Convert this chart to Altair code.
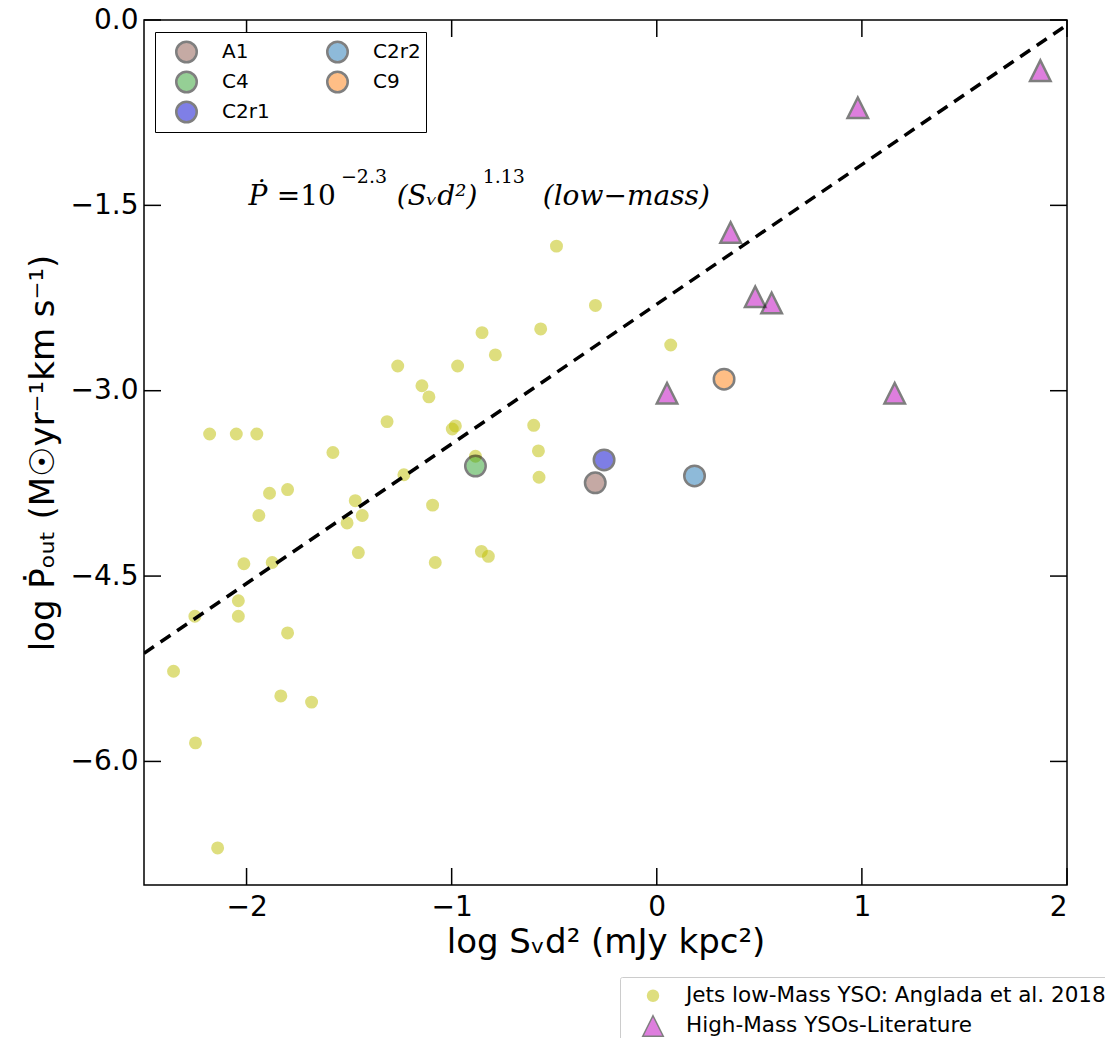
import altair as alt
import pandas as pd

# ---------------- data ----------------
low_x = [-2.18, -2.05, -1.95, -1.315, -0.489, -0.299, -0.566, -0.852, -0.787, 0.068,
         -1.263, -0.971, -1.145, -1.111, -0.982, -0.997, -0.600, -1.579, -1.888, -1.80,
         -1.94, -1.47, -1.436, -1.51, -1.455, -2.013, -1.875, -2.04, -2.04, -2.252,
         -1.80, -2.356, -0.577, -0.574, -0.884, -1.233, -1.093, -1.08, -0.855, -0.821,
         -1.833, -1.683, -2.249, -2.141]
low_y = [-3.35, -3.35, -3.35, -3.25, -1.83, -2.31, -2.50, -2.53, -2.71, -2.63,
         -2.80, -2.80, -2.96, -3.05, -3.285, -3.31, -3.28, -3.50, -3.83, -3.80,
         -4.01, -3.89, -4.01, -4.07, -4.31, -4.40, -4.39, -4.70, -4.825, -4.825,
         -4.96, -5.27, -3.487, -3.70, -3.53, -3.68, -3.926, -4.39, -4.30, -4.34,
         -5.47, -5.52, -5.85, -6.70]

high_x = [0.05, 0.36, 0.48, 0.56, 0.98, 1.16, 1.87]
high_y = [-3.02, -1.72, -2.24, -2.29, -0.71, -3.02, -0.41]

src_names = ["A1", "C4", "C2r1", "C2r2", "C9"]
src_x = [-0.30, -0.884, -0.257, 0.184, 0.328]
src_y = [-3.745, -3.61, -3.56, -3.69, -2.907]
src_colors = ["#8c564b", "#2ca02c", "#0000cd", "#1f77b4", "#ff7f0e"]

fit_intercept = -2.3
fit_slope = 1.13
fit_x = [-2.5, 2.0]
fit_y = [fit_intercept + fit_slope * v for v in fit_x]

x_ticks = [-2, -1, 0, 1, 2]
y_ticks = [0.0, -1.5, -3.0, -4.5, -6.0]

low_lab = "Jets low-Mass YSO: Anglada et al. 2018"
high_lab = "High-Mass YSOs-Literature"

# ---------------- layout ----------------
W, H = 923, 865
TICK = 17
FONT = "DejaVu Sans"

xs = alt.Scale(domain=[-2.5, 2.0], nice=False, zero=False)
ys = alt.Scale(domain=[-7.0, 0.0], nice=False, zero=False)

x_axis = alt.Axis(values=x_ticks, format="d", title="log Sᵥd²  (mJy kpc²)",
                  ticks=False, domain=False, grid=False,
                  labelFontSize=28, labelFont=FONT, labelColor="black", labelPadding=8,
                  titleFontSize=34, titleFont=FONT, titleFontWeight="normal",
                  titleColor="black", titlePadding=4)
y_axis = alt.Axis(values=y_ticks, format=".1f", title="log  Ṗₒᵤₜ  (M☉yr⁻¹km s⁻¹)",
                  ticks=False, domain=False, grid=False,
                  labelFontSize=28, labelFont=FONT, labelColor="black", labelPadding=6,
                  titleFontSize=34, titleFont=FONT, titleFontWeight="normal",
                  titleColor="black", titlePadding=10)

X = alt.X("x:Q", scale=xs, axis=x_axis)
Y = alt.Y("y:Q", scale=ys, axis=y_axis)

pts = pd.DataFrame({
    "x": low_x + high_x,
    "y": low_y + high_y,
    "group": [low_lab] * len(low_x) + [high_lab] * len(high_x),
})

tri_path = "M0,-1L1,1L-1,1Z"
gdom = [low_lab, high_lab]
grp_legend = alt.Legend(title=None, orient="none", legendX=476, legendY=957,
                        direction="vertical", labelFontSize=21.5, labelFont=FONT,
                        labelColor="black", labelLimit=700, strokeColor="#cccccc",
                        fillColor="white", padding=8, symbolOffset=14, labelOffset=22,
                        rowPadding=5, cornerRadius=2)

grp_enc = dict(
    x=X, y=Y,
    color=alt.Color("group:N", scale=alt.Scale(domain=gdom, range=["#bfbf00", "#bf00bf"]),
                    legend=grp_legend),
    shape=alt.Shape("group:N", scale=alt.Scale(domain=gdom, range=["circle", tri_path]),
                    legend=grp_legend),
    stroke=alt.Stroke("group:N", scale=alt.Scale(domain=gdom, range=["#bfbf00", "#000000"]),
                      legend=grp_legend),
    size=alt.Size("group:N", scale=alt.Scale(domain=gdom, range=[120, 420]),
                  legend=grp_legend),
)

base_pts = alt.Chart(pts)
yellow = base_pts.transform_filter(alt.datum.group == low_lab).mark_point(
    filled=True, opacity=0.5, strokeWidth=2).encode(**grp_enc)
tri = base_pts.transform_filter(alt.datum.group == high_lab).mark_point(
    filled=True, opacity=0.5, strokeWidth=2.5).encode(**grp_enc)

fit = alt.Chart(pd.DataFrame({"x": fit_x, "y": fit_y})).mark_line(
    color="black", strokeDash=[12, 8], strokeWidth=3.5, clip=True).encode(x=X, y=Y)

src = pd.DataFrame({"x": src_x, "y": src_y, "name": src_names})
named = alt.Chart(src).mark_point(
    filled=True, opacity=0.5, stroke="black", strokeWidth=2.5, size=420, shape="circle"
).encode(
    x=X, y=Y,
    fill=alt.Fill("name:N",
                  scale=alt.Scale(domain=src_names, range=src_colors),
                  legend=alt.Legend(title=None, orient="none", legendX=11, legendY=12,
                                    columns=2, symbolType="circle", symbolSize=420,
                                    symbolStrokeColor="black", symbolStrokeWidth=2.5,
                                    symbolOpacity=0.5, labelFontSize=20, labelFont=FONT,
                                    labelColor="black", labelOffset=24, rowPadding=0,
                                    clipHeight=30, columnPadding=41, padding=5,
                                    symbolOffset=15, strokeColor="black",
                                    fillColor="white", cornerRadius=0)),
)

# inward ticks on all four sides
xt = alt.Chart(pd.DataFrame({"v": x_ticks}))
yt = alt.Chart(pd.DataFrame({"v": y_ticks}))
XT = alt.X("v:Q", scale=xs, axis=x_axis)
YT = alt.Y("v:Q", scale=ys, axis=y_axis)
tick_bottom = xt.mark_rule(color="black", strokeWidth=1.5).encode(
    x=XT, y=alt.value(H), y2=alt.value(H - TICK))
tick_top = xt.mark_rule(color="black", strokeWidth=1.5).encode(
    x=XT, y=alt.value(0), y2=alt.value(TICK))
tick_left = yt.mark_rule(color="black", strokeWidth=1.5).encode(
    y=YT, x=alt.value(0), x2=alt.value(TICK))
tick_right = yt.mark_rule(color="black", strokeWidth=1.5).encode(
    y=YT, x=alt.value(W), x2=alt.value(W - TICK))

# equation annotation (pieces)
def txt(s, xv, yv, size, style):
    return alt.Chart(pd.DataFrame({"t": [s]})).mark_text(
        align="left", baseline="alphabetic", font="DejaVu Serif", fontSize=size,
        fontStyle=style, color="black"
    ).encode(x=alt.datum(xv), y=alt.datum(yv), text="t:N")

eq_y = -1.494
sup_y = -1.317
eq = [
    txt("Ṗ", -1.990, eq_y, 28, "italic"),
    txt("=10", -1.853, eq_y, 28, "normal"),
    txt("−2.3", -1.540, sup_y, 19, "normal"),
    txt("(Sᵥd²)", -1.268, eq_y, 28, "italic"),
    txt("1.13", -0.849, sup_y, 19, "normal"),
    txt("(low−mass)", -0.556, eq_y, 28, "italic"),
]

chart = alt.layer(
    yellow, fit, tri, named, tick_bottom, tick_top, tick_left, tick_right, *eq
).properties(
    width=W, height=H,
    padding={"left": 136, "top": 12, "right": 38, "bottom": 153},
    autosize=alt.AutoSizeParams(type="none"),
    background="white",
).configure_view(stroke="black", strokeWidth=1.5)

chart.save("out.html", embed_options={"renderer": "svg", "actions": False})
